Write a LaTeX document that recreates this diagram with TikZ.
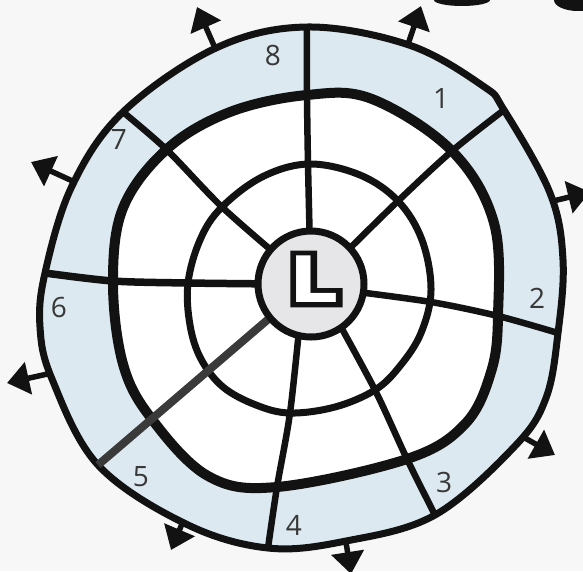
\documentclass[tikz,border=0pt]{standalone}
\usepackage{fontspec}
\setmainfont{Open Sans}
\newfontfamily\loutline{DejaVu Sans Bold}[FakeBold=16]
\newfontfamily\lfill{DejaVu Sans Bold}
\usetikzlibrary{arrows.meta}
\definecolor{band}{HTML}{DCE9F0}
\definecolor{bg}{HTML}{F7F7F7}
\definecolor{ink}{HTML}{121212}
\definecolor{hubgray}{HTML}{E6E6E8}
\definecolor{numc}{HTML}{383838}
\definecolor{darkspoke}{HTML}{3A3A3A}
\begin{document}
\begin{tikzpicture}[x=1pt,y=-1pt,
  ringline/.style={draw=ink, line width=7pt, line join=round},
  spoke/.style={draw=ink, line width=6.5pt},
  num/.style={text=numc, font=\fontsize{28}{28}\selectfont, inner sep=0pt},
  bigl/.style={inner sep=0pt, font=\fontsize{64}{64}\selectfont},
  outarrow/.style={draw=ink, line width=5.5pt, -{Triangle[length=22pt,width=32pt]}}]
\useasboundingbox (0,0) rectangle (583,571);
\clip (0,0) rectangle (583,571);
\fill[bg] (0,0) rectangle (583,571);

% partial dark shapes at the top right edge
\fill[ink] (462,0) ellipse (28pt and 6pt);
\fill[ink] (578,0) ellipse (24pt and 11pt);

% outward arrows
\coordinate (a1s) at (219,57); \coordinate (a1e) at (197,7);
\coordinate (a2s) at (405,53); \coordinate (a2e) at (421,6);
\coordinate (a3s) at (545,203); \coordinate (a3e) at (590,192);
\coordinate (a4s) at (509,429); \coordinate (a4e) at (555,455);
\coordinate (a5s) at (343,523); \coordinate (a5e) at (351,574);
\coordinate (a6s) at (190,505); \coordinate (a6e) at (171,550);
\coordinate (a7s) at (61,371); \coordinate (a7e) at (7,383);
\coordinate (a8s) at (79,184); \coordinate (a8e) at (31,162);
\foreach \i in {1,...,8} { \draw[outarrow] (a\i s) -- (a\i e); }

% outer band (light blue)
\path[fill=band, ringline] plot[smooth cycle, tension=0.6] coordinates {(307,27) (409,45) (483,86) (504,110) (550,193) (563,260) (558,333) (546,398) (515,446) (435,515) (346,541) (268,548) (186,524) (98,465) (52,379) (40,327) (45,273) (72,186) (123,112) (216,48)};

% middle ring (white inside)
\path[fill=white, draw=ink, line width=10pt] plot[smooth cycle, tension=0.6] coordinates {(307,95) (372,99) (452,151) (494,223) (498,316) (491,372) (465,424) (407,459) (277,487) (208,476) (151,418) (123,364) (113,283) (123,208) (167,149) (230,112)};

% inner ring
\path[ringline] plot[smooth cycle, tension=0.6] coordinates {(309,164) (360,175) (398,201) (422,240) (431,290) (421,333) (400,366) (375,390) (335,407) (290,413) (256,405) (223,387) (201,359) (190,325) (188,283) (200,240) (221,208) (262,177)};

% spokes
\draw[spoke] plot[smooth, tension=0.5] coordinates {(310,250) (308,164) (307,95) (307,27)};
\draw[spoke] plot[smooth, tension=0.5] coordinates {(340,258) (398,201) (452,151) (504,110)};
\draw[spoke] plot[smooth, tension=0.5] coordinates {(350,291) (431,302) (498,316) (558,333)};
\draw[spoke] plot[smooth, tension=0.5] coordinates {(336,318) (375,390) (407,459) (435,515)};
\draw[spoke] plot[smooth, tension=0.5] coordinates {(300,320) (290,413) (277,487) (268,548)};
\draw[spoke, draw=darkspoke, line width=8pt] (300,292) -- (98,465);
\draw[spoke, line width=7.5pt] plot[smooth, tension=0.5] coordinates {(280,284) (188,283) (113,281) (45,273)};
\draw[spoke] plot[smooth, tension=0.5] coordinates {(285,262) (222,207) (167,150) (123,112)};

% hub
\node[circle, draw=ink, line width=7pt, fill=hubgray, minimum size=106pt, inner sep=0pt] (hub) at (311,284) {};
\node[bigl, text=ink] (hubL) at (314,279) {\scalebox{1.2}[1]{\loutline L}};
\node[bigl, text=white] (hubLfill) at (hubL.center) {\scalebox{1.2}[1]{\lfill L}};

% labels
\node[num] (n8) at (273,55) {8};
\node[num] (n1) at (441,99) {1};
\node[num] (n7) at (119,140) {7};
\node[num] (n2) at (537,298) {2};
\node[num] (n6) at (59,307) {6};
\node[num] (n3) at (444,482) {3};
\node[num] (n5) at (141,477) {5};
\node[num] (n4) at (294,525) {4};
\end{tikzpicture}
\end{document}
